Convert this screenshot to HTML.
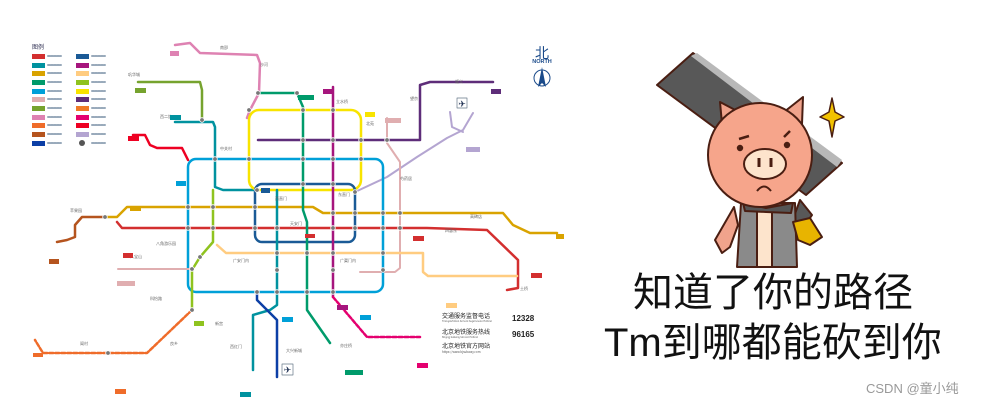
<!DOCTYPE html>
<html><head><meta charset="utf-8">
<style>
html,body{margin:0;padding:0;background:#fff;}
body{width:981px;height:402px;overflow:hidden;position:relative;font-family:"Liberation Sans","Noto Sans CJK SC",sans-serif;}
.t{position:absolute;color:#111;font-size:40px;line-height:40px;white-space:nowrap;font-family:"Liberation Sans","Noto Sans CJK SC",sans-serif;}
</style></head><body>
<svg width="981" height="402" style="position:absolute;left:0;top:0">
<g fill="none" stroke-linejoin="round" stroke-linecap="round">
  <!-- legend -->
  <text x="32" y="49" font-size="6" fill="#335" stroke="none" font-family="Noto Sans CJK SC">图例</text>
  <g stroke="none">
    <rect x="32" y="54" width="13" height="5" fill="#d32f2f"/><rect x="76" y="54" width="13" height="5" fill="#1a5a96"/>
    <rect x="32" y="63" width="13" height="5" fill="#00929f"/><rect x="76" y="63" width="13" height="5" fill="#a6157d"/>
    <rect x="32" y="71" width="13" height="5" fill="#d9a300"/><rect x="76" y="71" width="13" height="5" fill="#ffcc80"/>
    <rect x="32" y="80" width="13" height="5" fill="#009b6b"/><rect x="76" y="80" width="13" height="5" fill="#8fc31f"/>
    <rect x="32" y="89" width="13" height="5" fill="#00a0d8"/><rect x="76" y="89" width="13" height="5" fill="#f8e400"/>
    <rect x="32" y="97" width="13" height="5" fill="#e0aeb0"/><rect x="76" y="97" width="13" height="5" fill="#5e2d79"/>
    <rect x="32" y="106" width="13" height="5" fill="#76a32e"/><rect x="76" y="106" width="13" height="5" fill="#ef7a26"/>
    <rect x="32" y="115" width="13" height="5" fill="#de82b2"/><rect x="76" y="115" width="13" height="5" fill="#e4006f"/>
    <rect x="32" y="123" width="13" height="5" fill="#ef6c2a"/><rect x="76" y="123" width="13" height="5" fill="#ee0022"/>
    <rect x="32" y="132" width="13" height="5" fill="#b5541e"/><rect x="76" y="132" width="13" height="5" fill="#b4a5d1"/>
    <rect x="32" y="141" width="13" height="5" fill="#0c3fa6"/><circle cx="82" cy="143" r="3" fill="#555"/>
  </g>
  <g stroke="#9ab" stroke-width="2" stroke-dasharray="2 1">
    <path d="M48 56h13M48 65h13M48 73h13M48 82h13M48 91h13M48 99h13M48 108h13M48 117h13M48 125h13M48 134h13M48 143h13"/>
    <path d="M92 56h13M92 65h13M92 73h13M92 82h13M92 91h13M92 99h13M92 108h13M92 117h13M92 125h13M92 134h13M92 143h13"/>
  </g>
  <!-- lines -->
  <path d="M175 45L190 43L200 53L257 55L260 63L259 93L250 110L247 118" stroke="#de82b2" stroke-width="2.5"/>
  <path d="M138 82H200L202 90V120" stroke="#76a32e" stroke-width="2.5"/>
  <path d="M175 122H213L215 127V187L223 190H257" stroke="#00929f" stroke-width="2.5"/>
  <path d="M133 135H145L150 145L157 148H182L188 160" stroke="#ee0022" stroke-width="2.5"/>
  <rect x="249" y="110" width="112" height="80" rx="10" stroke="#f8e400" stroke-width="2.5"/>
  <path d="M258 140H420V85L430 82H493" stroke="#5e2d79" stroke-width="2.5"/>
  <path d="M355 192L387 177L417 157L447 138L463 130L473 113M450 112L452 127L463 132" stroke="#b4a5d1" stroke-width="2"/>
  <path d="M387 118V143L400 162V268L395 272H360" stroke="#e0aeb0" stroke-width="2"/>
  <rect x="188" y="159" width="195" height="133" rx="8" stroke="#00a0d8" stroke-width="2.5"/>
  <rect x="255" y="184" width="100" height="58" rx="7" stroke="#1a5a96" stroke-width="2.5"/>
  <path d="M105 217H117L127 207H313L323 213H503L513 225L530 233H557" stroke="#d9a300" stroke-width="2.5"/>
  <path d="M105 217H82L75 225V237L67 240L57 242" stroke="#b5541e" stroke-width="2.5"/>
  <path d="M117 222L122 228H427L487 230L518 260V288L507 290" stroke="#d32f2f" stroke-width="2.5"/>
  <path d="M217 245L226 253H423V272L428 276H517" stroke="#ffcc80" stroke-width="2.5"/>
  <path d="M118 269H192" stroke="#e0aeb0" stroke-width="2"/>
  <path d="M213 190V242L200 257L192 270V310" stroke="#8fc31f" stroke-width="2.5"/>
  <path d="M277 190V305L270 310L253 315V370" stroke="#00929f" stroke-width="2.5"/>
  <path d="M257 292V300L277 320V377" stroke="#0c3fa6" stroke-width="2.5"/>
  <path d="M260 93H297L303 107V210L307 222V310L330 343" stroke="#009b6b" stroke-width="2.5"/>
  <path d="M333 87V297" stroke="#a6157d" stroke-width="2.5"/>
  <path d="M333 297L367 337H420" stroke="#e4006f" stroke-width="2.5" stroke-dasharray="4 2"/>
  <path d="M192 310L147 353H43L35 340" stroke="#ef6c2a" stroke-width="2.5" stroke-dasharray="4 2"/>
  <!-- stations (interchange) -->
  <g fill="#777" stroke="#fff" stroke-width="0.8">
    <circle cx="202" cy="120" r="2.3"/><circle cx="215" cy="159" r="2.3"/><circle cx="249" cy="159" r="2.3"/><circle cx="303" cy="159" r="2.3"/><circle cx="333" cy="159" r="2.3"/><circle cx="361" cy="159" r="2.3"/>
    <circle cx="303" cy="140" r="2.3"/><circle cx="333" cy="140" r="2.3"/><circle cx="361" cy="140" r="2.3"/><circle cx="387" cy="140" r="2.3"/>
    <circle cx="257" cy="190" r="2.3"/><circle cx="303" cy="184" r="2.3"/><circle cx="333" cy="184" r="2.3"/><circle cx="355" cy="192" r="2.3"/>
    <circle cx="188" cy="228" r="2.3"/><circle cx="213" cy="228" r="2.3"/><circle cx="255" cy="228" r="2.3"/><circle cx="277" cy="228" r="2.3"/><circle cx="333" cy="228" r="2.3"/><circle cx="355" cy="228" r="2.3"/><circle cx="383" cy="228" r="2.3"/><circle cx="400" cy="228" r="2.3"/>
    <circle cx="188" cy="207" r="2.3"/><circle cx="213" cy="207" r="2.3"/><circle cx="255" cy="207" r="2.3"/><circle cx="333" cy="213" r="2.3"/><circle cx="355" cy="213" r="2.3"/><circle cx="383" cy="213" r="2.3"/><circle cx="400" cy="213" r="2.3"/>
    <circle cx="200" cy="257" r="2.3"/><circle cx="277" cy="253" r="2.3"/><circle cx="307" cy="253" r="2.3"/><circle cx="333" cy="253" r="2.3"/><circle cx="383" cy="253" r="2.3"/>
    <circle cx="192" cy="269" r="2.3"/><circle cx="277" cy="270" r="2.3"/><circle cx="333" cy="270" r="2.3"/><circle cx="383" cy="270" r="2.3"/>
    <circle cx="257" cy="292" r="2.3"/><circle cx="277" cy="292" r="2.3"/><circle cx="307" cy="292" r="2.3"/><circle cx="333" cy="292" r="2.3"/>
    <circle cx="192" cy="310" r="2.3"/><circle cx="108" cy="353" r="2.3"/><circle cx="105" cy="217" r="2.3"/><circle cx="297" cy="93" r="2.3"/><circle cx="258" cy="93" r="2.3"/><circle cx="303" cy="110" r="2.3"/><circle cx="333" cy="110" r="2.3"/><circle cx="249" cy="110" r="2.3"/>
  </g>
  <!-- tiny labels -->
  <g fill="#666" stroke="none" font-size="4" font-family="Noto Sans CJK SC">
    <text x="220" y="150">中关村</text><text x="275" y="200">西直门</text><text x="290" y="225">天安门</text><text x="338" y="196">东直门</text>
    <text x="233" y="262">广安门内</text><text x="340" y="262">广渠门内</text><text x="445" y="232">四惠东</text><text x="156" y="245">八角游乐园</text>
    <text x="70" y="212">苹果园</text><text x="336" y="103">立水桥</text><text x="366" y="125">北苑</text><text x="410" y="100">望京</text>
    <text x="230" y="348">西红门</text><text x="286" y="352">大兴新城</text><text x="340" y="347">亦庄桥</text><text x="170" y="345">良乡</text>
    <text x="128" y="76">巩华城</text><text x="220" y="49">南邵</text><text x="455" y="83">顺义</text><text x="520" y="290">土桥</text>
    <text x="260" y="66">沙河</text><text x="160" y="118">西二旗</text><text x="400" y="180">芍药居</text><text x="470" y="218">高碑店</text>
    <text x="130" y="258">八宝山</text><text x="150" y="300">科怡路</text><text x="80" y="345">阎村</text><text x="215" y="325">新宫</text>
  </g>
  <g stroke="none">
    <rect x="170" y="51" width="9" height="5" fill="#de82b2"/><rect x="135" y="88" width="11" height="5" fill="#76a32e"/>
    <rect x="170" y="115" width="11" height="5" fill="#00929f"/><rect x="128" y="136" width="11" height="5" fill="#ee0022"/>
    <rect x="176" y="181" width="10" height="5" fill="#00a0d8"/><rect x="130" y="206" width="11" height="5" fill="#d9a300"/>
    <rect x="123" y="253" width="10" height="5" fill="#d32f2f"/><rect x="49" y="259" width="10" height="5" fill="#b5541e"/>
    <rect x="117" y="281" width="18" height="5" fill="#e0aeb0"/><rect x="33" y="353" width="10" height="4" fill="#ef6c2a"/>
    <rect x="115" y="389" width="11" height="5" fill="#ef6c2a"/><rect x="240" y="392" width="11" height="5" fill="#00929f"/>
    <rect x="345" y="370" width="18" height="5" fill="#009b6b"/><rect x="417" y="363" width="11" height="5" fill="#e4006f"/>
    <rect x="446" y="303" width="11" height="5" fill="#ffcc80"/><rect x="531" y="273" width="11" height="5" fill="#d32f2f"/>
    <rect x="556" y="234" width="8" height="5" fill="#d9a300"/><rect x="466" y="147" width="14" height="5" fill="#b4a5d1"/>
    <rect x="491" y="89" width="10" height="5" fill="#5e2d79"/><rect x="365" y="112" width="10" height="5" fill="#f8e400"/>
    <rect x="323" y="89" width="10" height="5" fill="#a6157d"/><rect x="298" y="95" width="16" height="5" fill="#009b6b"/>
    <rect x="385" y="118" width="16" height="5" fill="#e0aeb0"/><rect x="413" y="236" width="11" height="5" fill="#d32f2f"/>
    <rect x="261" y="188" width="9" height="5" fill="#1a5a96"/><rect x="337" y="305" width="11" height="5" fill="#a6157d"/>
    <rect x="360" y="315" width="11" height="5" fill="#00a0d8"/><rect x="282" y="317" width="11" height="5" fill="#00a0d8"/>
    <rect x="194" y="321" width="10" height="5" fill="#8fc31f"/><rect x="305" y="234" width="10" height="4" fill="#d32f2f"/>
    <rect x="457" y="98" width="10" height="10" fill="#fff" stroke="#678" stroke-width="0.7"/>
    <rect x="282" y="364" width="11" height="11" fill="#fff" stroke="#678" stroke-width="0.7"/>
  </g>
  <text x="462" y="107" font-size="9" fill="#235" text-anchor="middle" stroke="none">✈</text>
  <text x="287.5" y="373" font-size="9" fill="#235" text-anchor="middle" stroke="none">✈</text>
  <!-- north -->
  <text x="542" y="58" font-size="14" fill="#1a4a8a" text-anchor="middle" stroke="none" font-family="Noto Sans CJK SC">北</text>
  <text x="542" y="63" font-size="5.5" font-weight="bold" fill="#1a4a8a" text-anchor="middle" stroke="none">NORTH</text>
  <circle cx="542" cy="78" r="8" stroke="#1a4a8a" stroke-width="1"/>
  <path d="M542 67L546 87L542 83L538 87Z" fill="#1a4a8a" stroke="none"/>
  <!-- hotline -->
  <g stroke="none" fill="#222" font-family="Noto Sans CJK SC">
    <text x="442" y="318" font-size="6">交通服务监督电话</text>
    <text x="442" y="322" font-size="2.5" fill="#555">Transportation Service Supervision Hotline</text>
    <text x="512" y="321" font-size="8" font-weight="bold" font-family="Liberation Sans">12328</text>
    <text x="442" y="334" font-size="6">北京地铁服务热线</text>
    <text x="442" y="338" font-size="2.5" fill="#555">Beijing Subway Service Hotline</text>
    <text x="512" y="337" font-size="8" font-weight="bold" font-family="Liberation Sans">96165</text>
    <text x="442" y="348" font-size="6">北京地铁官方网站</text>
    <text x="442" y="353" font-size="3" fill="#555">https://www.bjsubway.com</text>
  </g>
</g>
<!-- pig -->
<g stroke="#4a1e12" stroke-width="2" stroke-linejoin="round">
  <polygon points="657,85 693,53 842,163 806,195" fill="#585858"/>
  <polygon points="691,56 697,53 842,160 837,167" fill="#b8b8b8" stroke="none"/>
  <path d="M800 200 L812 215 L800 232 L792 222Z" fill="#585858"/>
  <path d="M734 207 L715 240 L722 253 L730 247 L738 225Z" fill="#f0a38c"/>
  <path d="M741 203 L737 267 L797 267 L795 203 Z" fill="#8a8a8a"/>
  <path d="M757 210 L757 267 L772 267 L772 210Z" fill="#fde4cc"/>
  <path d="M743 203 L766 208 L793 203 L791 213 L766 212 L745 211Z" fill="#555"/>
  <path d="M793 222 L810 218 L822 237 L810 245 L798 240Z" fill="#e8b400"/>
  <path d="M720 102 L722 124 L739 112Z" fill="#f0a38c"/>
  <path d="M803 97 L784 112 L802 124Z" fill="#f0a38c"/>
  <circle cx="760" cy="155" r="52" fill="#f6a58b"/>
  <ellipse cx="765" cy="164" rx="21" ry="15" fill="#fde4cc"/>
  <path d="M759 158v9M771 158v9" stroke-width="3"/>
  <path d="M757 191 Q764 182 771 191" fill="none"/>
  <path d="M739 139l10 -3M784 137l6 -6" fill="none" stroke-width="2.5"/>
  <circle cx="740" cy="148" r="2.2" fill="#4a1e12"/><circle cx="787" cy="145" r="2.2" fill="#4a1e12"/>
  <path d="M832 98 L835 112 L844 117 L835 121 L832 137 L829 121 L820 117 L829 112Z" fill="#f2c200" stroke-width="1.5"/>
</g>
<div class="t" style="left:633px;top:273px;">知道了你的路径</div>
<div class="t" style="left:604px;top:323px;">Tm到哪都能砍到你</div>
<div style="position:absolute;left:866px;top:378px;font-size:13px;color:#999;font-family:'Liberation Sans','Noto Sans CJK SC',sans-serif;">CSDN @童小纯</div>
</body></html>
